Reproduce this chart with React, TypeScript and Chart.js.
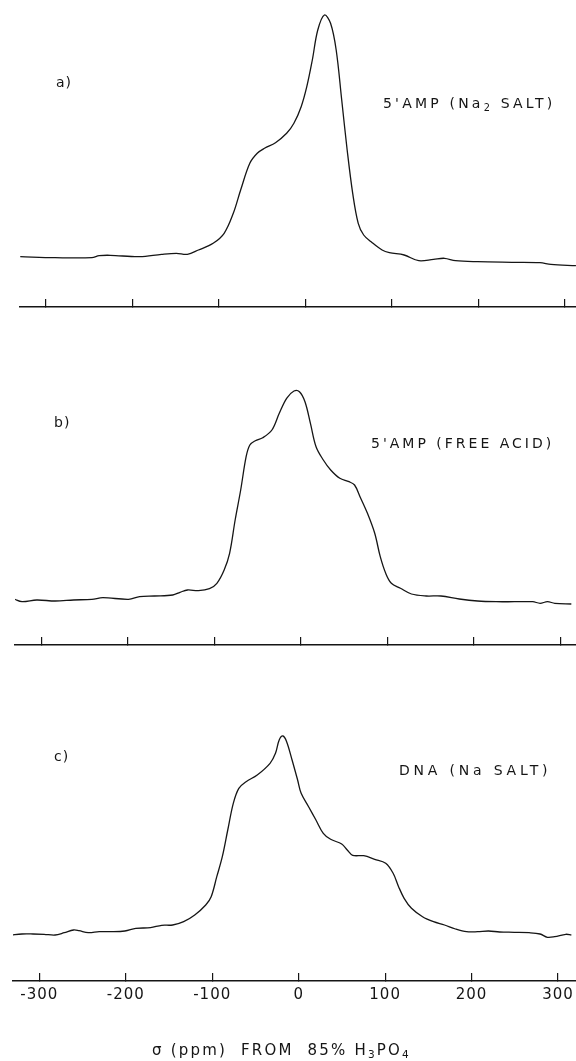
import React, { useEffect, useRef } from 'react';
import { Chart, registerables } from 'chart.js';

Chart.register(...registerables);

// chemical shift axis (ppm from 85% H3PO4)
const TICK_VALUES = [-300, -200, -100, 0, 100, 200, 300];
const TICK_LABELS = ['-300', '-200', '-100', '0', '100', '200', '300'];
const X_TITLE = 'σ (ppm)  FROM  85% H₃PO₄';

// a) 5'AMP (Na2 SALT) — shift (ppm) and intensity (arb. units)
const A_PPM = [-329.7, -289.4, -246.9, -238.4, -225.6, -191.6, -166.2, -149.2, -136.4, -123.6, -106.6, -93.9, -83.3, -74.8, -64.2, -55.6, -47.2, -34.5, -21.6, -13.2, -4.8, 1.7, 8.1, 14.4, 22.1, 29.2, 35.7, 42.1, 48.4, 54.8, 61.2, 67.5, 76.1, 88.8, 97.2, 114.3, 131.2, 148.3, 161, 173.7, 199.2, 241.7, 271.4, 284.1, 313];
const A_INT = [0.3, -0.7, -0.7, 1.3, 1.7, 0.3, 2.7, 3.7, 2.7, 7, 13.7, 23.7, 43.7, 67, 93.7, 103.7, 108.7, 114.3, 123.7, 133.7, 150.3, 170.3, 197, 227, 242, 233.7, 207, 157, 107, 63.7, 33.7, 22, 15.3, 7, 4.3, 2, -3.7, -2.3, -1.3, -3.7, -4.7, -5.3, -5.7, -7.3, -8.7];

// b) 5'AMP (FREE ACID)
const B_PPM = [-331.3, -322.1, -305.1, -283.8, -262.6, -241.4, -228.6, -198.9, -186.2, -169.2, -147.9, -139.5, -130.9, -118.2, -105.5, -96.9, -88.5, -82.2, -75.8, -69.4, -63.1, -58.8, -52.5, -43.9, -33.3, -24.8, -16.3, -7.8, -1.5, 4.9, 11.2, 17.7, 26.1, 34.6, 45.2, 55.8, 62.2, 68.5, 77.1, 85.5, 91.9, 98.2, 104.7, 115.2, 127.9, 145.1, 162, 183.2, 204.4, 225.7, 246.9, 268.1, 276.6, 285.1, 293.6, 312.7];
const B_INT = [1, -1.7, 0, -1, 0, 0.7, 2.3, 0.7, 3.3, 4, 5, 7.7, 10, 9.3, 11.3, 16.7, 30, 46.7, 80, 110, 143.3, 155, 159.3, 162.3, 170, 186.7, 201.7, 209, 208.3, 198.3, 176.7, 153.3, 140, 130, 121.7, 118.3, 115, 103.3, 86.7, 66.7, 43.3, 26.7, 16.7, 11.7, 6, 4, 4, 1, -1, -1.7, -1.7, -1.7, -3.3, -1.7, -3.3, -4];

// c) DNA (Na SALT)
const C_PPM = [-332.7, -320, -307.2, -294.4, -281.7, -271.1, -260.4, -254.1, -243.4, -230.7, -218, -201, -188.3, -171.3, -158.5, -145.7, -133, -120.2, -107.5, -101.2, -94.7, -88.3, -82, -75.6, -69.2, -60.8, -47.9, -33.1, -26.8, -22.5, -18.2, -13.9, -7.6, -1.2, 2.9, 11.5, 20, 28.5, 37, 49.8, 56.2, 62.5, 75.2, 88, 100.7, 109.3, 115.6, 122, 130.5, 143.3, 156, 168.7, 181.4, 194.3, 207, 219.7, 232.4, 249.5, 266.5, 279.2, 287.7, 296.2, 309, 315.4];
const C_INT = [-1, 0, 0, -0.3, -1, 1.3, 4, 3.3, 1.3, 2.3, 2.3, 3, 5.7, 6.3, 8.7, 9, 12.3, 19, 29, 37.3, 57.3, 77.3, 104, 130.7, 145.7, 152.3, 159, 170.7, 180.7, 194, 198, 192.3, 174, 154, 140.7, 127.3, 114, 100.7, 94.7, 90, 84, 78.7, 78.3, 74.7, 70.7, 60.7, 47.3, 35.7, 25.7, 17.3, 12.3, 9, 5, 2.3, 2.3, 3, 2, 1.7, 1.3, 0, -3.3, -2.7, -0.3, -1];

const INK = '#151515';
const FONT = "'DejaVu Sans', 'Liberation Sans', sans-serif";

type PanelCfg = {
  top: number;
  height: number;
  axisHeight: number;
  padLeft: number;
  xMin: number;
  xMax: number;
  yMin: number;
  yMax: number;
  showLabels: boolean;
  ppm: number[];
  intensity: number[];
};

const PANELS: PanelCfg[] = [
  { top: 0, height: 311, axisHeight: 4, padLeft: 20, xMin: -330, xMax: 313.07, yMin: -50, yMax: 257, showLabels: false, ppm: A_PPM, intensity: A_INT },
  { top: 311, height: 338, axisHeight: 4, padLeft: 15, xMin: -330.2, xMax: 318.1, yMin: -45, yMax: 289, showLabels: false, ppm: B_PPM, intensity: B_INT },
  { top: 649, height: 412, axisHeight: 80, padLeft: 13, xMin: -330.4, xMax: 320.8, yMin: -47, yMax: 285, showLabels: true, ppm: C_PPM, intensity: C_INT },
];

function SpectrumPanel({ cfg }: { cfg: PanelCfg }) {
  const ref = useRef<HTMLCanvasElement>(null);
  useEffect(() => {
    const canvas = ref.current;
    if (!canvas) return;
    const chart = new Chart(canvas, {
      type: 'line',
      data: {
        datasets: [
          {
            data: cfg.ppm.map((x, i) => ({ x, y: cfg.intensity[i] })),
            borderColor: INK,
            borderWidth: 1.3,
            pointRadius: 0,
            tension: 0.35,
            fill: false,
          },
        ],
      },
      options: {
        animation: false,
        responsive: false,
        devicePixelRatio: 1,
        layout: { padding: { left: cfg.padLeft, right: 0, top: 0, bottom: 0 }, autoPadding: false },
        plugins: { legend: { display: false }, tooltip: { enabled: false } },
        scales: {
          x: {
            type: 'linear',
            position: 'bottom',
            min: cfg.xMin,
            max: cfg.xMax,
            afterBuildTicks: (scale: any) => {
              scale.ticks = TICK_VALUES.map((v) => ({ value: v }));
            },
            afterFit: (scale: any) => {
              scale.height = cfg.axisHeight;
              scale.paddingLeft = 0;
              scale.paddingRight = 0;
            },
            grid: {
              drawOnChartArea: false,
              drawTicks: true,
              tickLength: -8,
              color: INK,
              lineWidth: 1.2,
            },
            border: { display: true, color: INK, width: 1.5 },
            ticks: {
              display: cfg.showLabels,
              autoSkip: false,
              maxRotation: 0,
              padding: 13,
              color: INK,
              font: { family: FONT, size: 15 },
              callback: (_v: any, index: number) => TICK_LABELS[index],
            },
          },
          y: {
            type: 'linear',
            display: false,
            min: cfg.yMin,
            max: cfg.yMax,
          },
        },
      },
      plugins: [
        {
          id: 'letterSpacing',
          beforeDraw: (c: any) => {
            try {
              c.ctx.letterSpacing = '1px';
            } catch (e) {
              /* ignore */
            }
          },
        },
      ],
    } as any);
    return () => chart.destroy();
  }, [cfg]);
  return (
    <canvas
      ref={ref}
      width={576}
      height={cfg.height}
      style={{ position: 'absolute', left: 0, top: cfg.top, width: 576, height: cfg.height, display: 'block' }}
    />
  );
}

const subStyle: React.CSSProperties = { fontSize: '0.7em', verticalAlign: '-0.3em', lineHeight: 0 };

function Label({ left, cy, size, spacing, children }: { left: number; cy: number; size: number; spacing: number; children: React.ReactNode }) {
  return (
    <div
      style={{
        position: 'absolute',
        left,
        top: cy - size / 2,
        fontSize: size,
        lineHeight: `${size}px`,
        letterSpacing: spacing,
        whiteSpace: 'pre',
        fontFamily: FONT,
        color: INK,
      }}
    >
      {children}
    </div>
  );
}

export default function App() {
  return (
    <div style={{ position: 'absolute', left: 0, top: 0, width: 576, height: 1061, background: '#fff', overflow: 'hidden' }}>
      {PANELS.map((p, i) => (
        <SpectrumPanel key={i} cfg={p} />
      ))}
      <Label left={56} cy={82} size={14} spacing={1}>a)</Label>
      <Label left={383} cy={103} size={14} spacing={3.2}>
        5'AMP (Na<sub style={subStyle}>2</sub> SALT)
      </Label>
      <Label left={54} cy={422} size={14} spacing={1}>b)</Label>
      <Label left={371} cy={443} size={14} spacing={3}>5'AMP (FREE ACID)</Label>
      <Label left={54} cy={756} size={14} spacing={1}>c)</Label>
      <Label left={399} cy={770} size={14} spacing={3.8}>DNA (Na SALT)</Label>
      <Label left={152} cy={1050} size={15} spacing={2.2}>
        σ (ppm)  FROM  85% H<sub style={subStyle}>3</sub>PO<sub style={subStyle}>4</sub>
      </Label>
    </div>
  );
}
